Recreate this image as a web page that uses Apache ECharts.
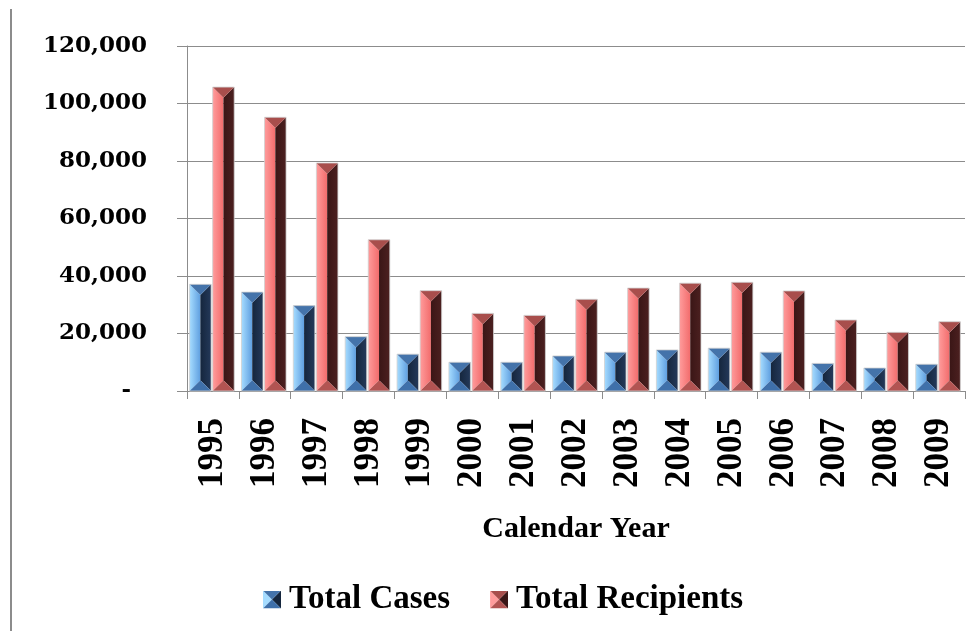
<!DOCTYPE html>
<html>
<head>
<meta charset="utf-8">
<script src="https://cdn.jsdelivr.net/npm/echarts@6/dist/echarts.min.js"></script>
<style>
  html, body { margin: 0; padding: 0; background: #fff; }
  #chart { width: 976px; height: 631px; }
</style>
</head>
<body>
<div id="chart"></div>
<script>
// data
var years = ['1995', '1996', '1997', '1998', '1999', '2000', '2001', '2002',
  '2003', '2004', '2005', '2006', '2007', '2008', '2009'];
var totalCases = [37100, 34400, 29700, 18900, 12800, 10000, 10000, 12200,
  13500, 14300, 14900, 13500, 9600, 8000, 9300];
var totalRecipients = [105700, 95200, 79300, 52600, 34900, 27000, 26300, 31900,
  35800, 37500, 37800, 34800, 24700, 20400, 24100];
var yTicks = [0, 20000, 40000, 60000, 80000, 100000, 120000];

// bevel colours per series: [leftLight, leftMid, rightDark, rightEdge, top, bottom]
var blueBevel = ['#a6dcff', '#5f9fe0', '#15263d', '#24395a', '#4473aa', '#3f70aa'];
var redBevel = ['#ff9c9c', '#f26c6c', '#3a1616', '#4c2020', '#a84e4c', '#b25452'];

function fmt(v) {
  if (v === 0) return '-  ';
  return String(v).replace(/\B(?=(\d{3})+(?!\d))/g, ',');
}

function bevelItem(idx, c) {
  return function (params, api) {
    var i = api.value(0), v = api.value(1);
    var base = api.coord([i, 0]);
    var top = api.coord([i, v]);
    var band = api.size([1, 0])[0];
    var w = band * 0.415, gap = band * 0.03;
    var x0 = base[0] - band * 0.45 + idx * (w + gap);
    var x1 = x0 + w, xc = x0 + w / 2;
    var yt = top[1], yb = base[1];
    var d = Math.min(w / 2, (yb - yt) / 2);
    return {
      type: 'group',
      children: [
        { type: 'polygon', shape: { points: [[x0, yt], [xc, yt + d], [xc, yb - d], [x0, yb]] },
          style: { fill: new echarts.graphic.LinearGradient(0, 0, 1, 0, [
            { offset: 0, color: c[0] }, { offset: 1, color: c[1] }]) } },
        { type: 'polygon', shape: { points: [[x1, yt], [xc, yt + d], [xc, yb - d], [x1, yb]] },
          style: { fill: new echarts.graphic.LinearGradient(0, 0, 1, 0, [
            { offset: 0, color: c[2] }, { offset: 1, color: c[3] }]) } },
        { type: 'polygon', shape: { points: [[x0, yt], [x1, yt], [xc, yt + d]] },
          style: { fill: c[4] } },
        { type: 'polygon', shape: { points: [[x0, yb], [x1, yb], [xc, yb - d]] },
          style: { fill: c[5] } },
        { type: 'rect', shape: { x: x0, y: yt, width: w, height: yb - yt },
          style: { fill: 'none', stroke: '#d0d0d0', lineWidth: 0.8 } }
      ]
    };
  };
}

function legendIcon(c) {
  var svg = '<svg xmlns="http://www.w3.org/2000/svg" width="18" height="18">' +
    '<polygon points="0,0 9,9 0,18" fill="' + c[0] + '"/>' +
    '<polygon points="18,0 9,9 18,18" fill="' + c[2] + '"/>' +
    '<polygon points="0,0 18,0 9,9" fill="' + c[4] + '"/>' +
    '<polygon points="0,18 18,18 9,9" fill="' + c[5] + '"/>' +
    '</svg>';
  return 'image://data:image/svg+xml;charset=utf-8,' + encodeURIComponent(svg);
}

var chart = echarts.init(document.getElementById('chart'));
var option = {
  animation: false,
  backgroundColor: '#ffffff',
  grid: { left: 187, right: 11, top: 46, bottom: 240, containLabel: false },
  legend: {
    left: 263,
    top: 583,
    padding: 0,
    itemWidth: 18,
    itemHeight: 18,
    itemGap: 40,
    textStyle: { fontFamily: 'Liberation Serif', fontWeight: 'bold', fontSize: 33, color: '#000', padding: [0, 0, 0, 3] },
    data: [
      { name: 'Total Cases', icon: legendIcon(blueBevel) },
      { name: 'Total Recipients', icon: legendIcon(redBevel) }
    ]
  },
  xAxis: {
    type: 'category',
    data: years,
    name: 'Calendar Year',
    nameLocation: 'middle',
    nameGap: 123,
    nameTextStyle: { fontFamily: 'Liberation Serif', fontWeight: 'bold', fontSize: 30, color: '#000' },
    axisLine: { lineStyle: { color: '#8c8c8c', width: 1 } },
    axisTick: { show: true, length: 8, lineStyle: { color: '#8c8c8c' } },
    axisLabel: {
      rotate: 90,
      margin: 27,
      fontFamily: 'Liberation Serif',
      fontWeight: 'bold',
      fontSize: 35,
      color: '#000'
    }
  },
  yAxis: {
    type: 'value',
    min: yTicks[0],
    max: yTicks[yTicks.length - 1],
    interval: yTicks[1] - yTicks[0],
    axisLine: { show: true, lineStyle: { color: '#8c8c8c', width: 1 } },
    axisTick: { show: true, length: 10, lineStyle: { color: '#8c8c8c' } },
    splitLine: { lineStyle: { color: '#8c8c8c', width: 1 } },
    axisLabel: {
      margin: 40,
      formatter: fmt,
      fontFamily: 'DejaVu Serif',
      fontWeight: 'bold',
      fontSize: 23,
      color: '#000'
    }
  },
  graphic: [
    { type: 'line', shape: { x1: 11, y1: 9, x2: 11, y2: 631 },
      style: { stroke: '#8c8c8c', lineWidth: 2 } }
  ],
  series: [
    {
      name: 'Total Cases',
      type: 'custom',
      itemStyle: { color: '#4473aa' },
      renderItem: bevelItem(0, blueBevel),
      encode: { x: 0, y: 1 },
      data: totalCases.map(function (v, i) { return [i, v]; })
    },
    {
      name: 'Total Recipients',
      type: 'custom',
      itemStyle: { color: '#a84e4c' },
      renderItem: bevelItem(1, redBevel),
      encode: { x: 0, y: 1 },
      data: totalRecipients.map(function (v, i) { return [i, v]; })
    }
  ]
};
chart.setOption(option);
</script>
</body>
</html>
